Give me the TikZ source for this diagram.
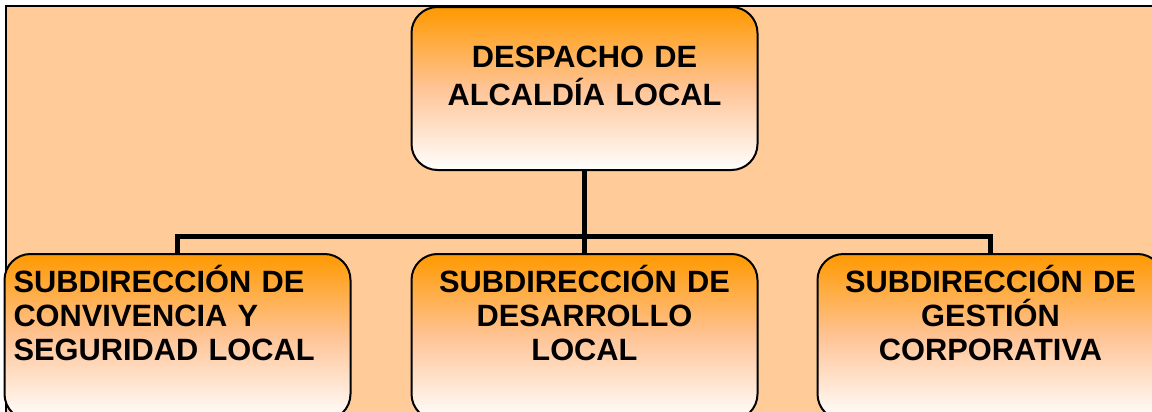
\documentclass[tikz,border=0pt]{standalone}
\usepackage{fontspec}
\setmainfont{Liberation Sans}
\usetikzlibrary{positioning}
\definecolor{peach}{RGB}{255,204,153}
\definecolor{deeporange}{RGB}{255,153,0}
\definecolor{softorange}{RGB}{255,196,150}

\begin{document}
\begin{tikzpicture}[x=0.5pt, y=-0.5pt,
    unitbox/.style={draw=black, line width=1pt, rounded corners=13pt,
        top color=deeporange, bottom color=white, middle color=softorange,
        inner xsep=4.5pt, inner ysep=0pt, text width=164pt,
        font=\bfseries\fontsize{15.4pt}{17pt}\selectfont},
    subunit/.style={unitbox, text height=19pt, text depth=64pt},
    link/.style={line width=2.5pt}]
    % Page frame and background
    \path[use as bounding box] (0,0) rectangle (1152,412);
    \clip (0,0) rectangle (1152,412);
    \fill[peach] (6,6) rectangle (1152,412);
    \draw[line width=1pt] (6,420) -- (6,6) -- (1160,6);

    % Head office
    \node[unitbox, align=center, text height=30.5pt, text depth=51pt,
          font=\bfseries\fontsize{15.4pt}{19pt}\selectfont]
          (despacho) at (584.5,88.5) {DESPACHO DE\\ALCALDÍA LOCAL};

    % Sub-offices
    \node[subunit, align=center, below=41pt of despacho] (desarrollo)
        {SUBDIRECCIÓN DE\\DESARROLLO\\LOCAL};
    \node[subunit, align=left, left=29.5pt of desarrollo] (convivencia)
        {SUBDIRECCIÓN DE\\CONVIVENCIA Y\\SEGURIDAD LOCAL};
    \node[subunit, align=center, right=29pt of desarrollo] (gestion)
        {SUBDIRECCIÓN DE\\GESTIÓN\\CORPORATIVA};

    % Connectors
    \coordinate (bar) at ([yshift=8.25pt]desarrollo.north);
    \draw[link] (despacho.south) -- (desarrollo.north);
    \draw[link] (convivencia.north) |- (bar) -| (gestion.north);
\end{tikzpicture}
\end{document}
